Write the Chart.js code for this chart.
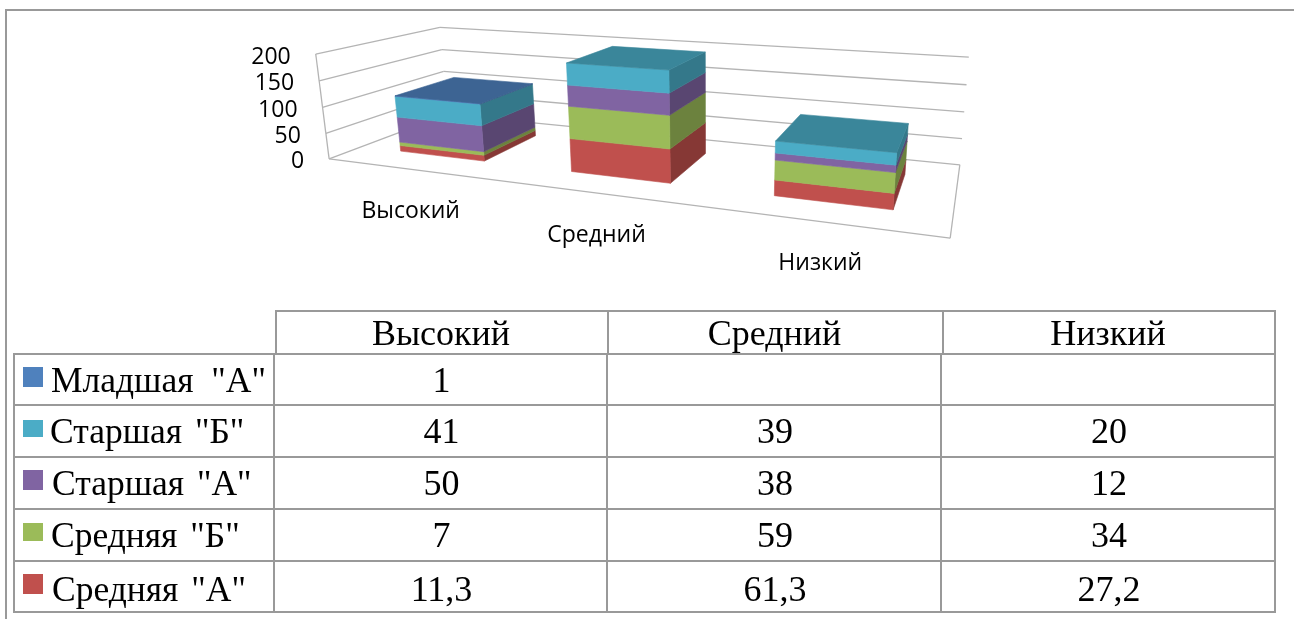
<!DOCTYPE html>
<html lang="ru"><head><meta charset="utf-8">
<script src="https://cdn.jsdelivr.net/npm/chart.js@4/dist/chart.umd.min.js"></script>
<style>
html,body{margin:0;padding:0;background:#fff;width:1294px;height:619px;overflow:hidden}
canvas{position:absolute;left:0;top:0}
.c{position:absolute;font:36px/40px "Liberation Serif",serif;color:#000;white-space:pre;text-align:center}
.l{position:absolute;background:#999}
.s{position:absolute}
</style></head><body>
<canvas id="c" width="1294" height="619"></canvas>
<script>
const categories = ['Высокий','Средний','Низкий'];
const tickLabels = [0,50,100,150,200];
const srednyayaA = [11.3,61.3,27.2];
const srednyayaB = [7,59,34];
const starshayaA = [50,38,12];
const starshayaB = [41,39,20];
const mladshayaA = [1,null,null];
const names = ['Средняя "А"','Средняя "Б"','Старшая "А"','Старшая "Б"','Младшая  "А"'];
const colors = ['#C0504D','#9BBB59','#8064A2','#4BACC6','#4F81BD'];
const seriesValues = [srednyayaA,srednyayaB,starshayaA,starshayaB,mladshayaA];

// camera: fits a projective map from (u,v,d) box coordinates to the screen
const anchors = [
 [0,0,0,329,160],[1,0,0,950,238],[1,0,1,960,165],[0,0,1,448,113],
 [0,1,0,316,53],[0,1,1,440,28],[1,1,1,969,57],[1,.5,1,964,112],[0,.5,1,443,72]];
function solveCamera(){
  const A=[],b=[];
  for(const [u,v,d,x0,y0] of anchors){const x=x0/1000,y=y0/1000;
    A.push([u,v,d,1,0,0,0,0,-x*u,-x*v,-x*d]);b.push(x);
    A.push([0,0,0,0,u,v,d,1,-y*u,-y*v,-y*d]);b.push(y);}
  const n=11,M=[];
  for(let i=0;i<n;i++){M[i]=[];for(let j=0;j<n;j++){let s=0;for(let k=0;k<A.length;k++)s+=A[k][i]*A[k][j];M[i][j]=s+(i===j?1e-10:0);}
    let s=0;for(let k=0;k<A.length;k++)s+=A[k][i]*b[k];M[i][n]=s;}
  for(let i=0;i<n;i++){let p=i;for(let r=i+1;r<n;r++)if(Math.abs(M[r][i])>Math.abs(M[p][i]))p=r;[M[i],M[p]]=[M[p],M[i]];
    for(let r=0;r<n;r++){if(r===i)continue;const f=M[r][i]/M[i][i];for(let c=i;c<=n;c++)M[r][c]-=f*M[i][c];}}
  return M.map((r,i)=>r[n]/r[i]);
}
const cam=solveCamera();
function P(u,v,d){const w=cam[8]*u+cam[9]*v+cam[10]*d+1;
  return [1000*(cam[0]*u+cam[1]*v+cam[2]*d+cam[3])/w,1000*(cam[4]*u+cam[5]*v+cam[6]*d+cam[7])/w];}

const depthFront=.24, depthBack=.75, barShift=.002;
function shade(hex,f){const n=parseInt(hex.slice(1),16);return `rgb(${(n>>16)*f|0},${((n>>8)&255)*f|0},${(n&255)*f|0})`;}
function poly(ctx,pts,fill){ctx.beginPath();pts.forEach((p,i)=>i?ctx.lineTo(p[0],p[1]):ctx.moveTo(p[0],p[1]));ctx.closePath();
  ctx.fillStyle=fill;ctx.strokeStyle=fill;ctx.lineWidth=.6;ctx.fill();ctx.stroke();}
function line(ctx,a,b){ctx.beginPath();ctx.moveTo(a[0],a[1]);ctx.lineTo(b[0],b[1]);ctx.stroke();}

const scene3d={id:'scene3d',
 beforeDatasetsDraw(chart){
  const ctx=chart.ctx,xs=chart.scales.x,ys=chart.scales.y;
  const V=val=>(ys.bottom-ys.getPixelForValue(val))/(ys.bottom-ys.top);
  const Vp=px=>(ys.bottom-px)/(ys.bottom-ys.top);
  const U=px=>(px-xs.left)/(xs.right-xs.left);
  ctx.save();
  ctx.strokeStyle='#b4b4b4';ctx.lineWidth=1.3;
  ys.ticks.forEach(t=>{const v=V(t.value);
    line(ctx,P(0,v,0),P(0,v,1));line(ctx,P(0,v,1),P(1,v,1));});
  line(ctx,P(0,0,0),P(0,1,0));
  line(ctx,P(0,0,0),P(1,0,0));line(ctx,P(1,0,0),P(1,0,1));
  categories.forEach((_,i)=>{
    let top=null;
    chart.data.datasets.forEach((ds,k)=>{
      if(ds.data[i]==null)return;
      const el=chart.getDatasetMeta(k).data[i];
      const u0=U(el.x-el.width/2)+barShift,u1=U(el.x+el.width/2)+barShift,v0=Vp(el.base),v1=Vp(el.y);
      poly(ctx,[P(u1,v0,depthFront),P(u1,v0,depthBack),P(u1,v1,depthBack),P(u1,v1,depthFront)],shade(ds.backgroundColor,.7));
      poly(ctx,[P(u0,v0,depthFront),P(u1,v0,depthFront),P(u1,v1,depthFront),P(u0,v1,depthFront)],ds.backgroundColor);
      top={u0,u1,v1,c:ds.backgroundColor};
    });
    poly(ctx,[P(top.u0,top.v1,depthFront),P(top.u1,top.v1,depthFront),P(top.u1,top.v1,depthBack),P(top.u0,top.v1,depthBack)],shade(top.c,.78));
  });
  ctx.fillStyle='#000';ctx.textBaseline='middle';
  ctx.font='23px "Open Sans"';ctx.textAlign='right';
  ys.ticks.forEach(t=>{const p=P(0,V(t.value),0);ctx.fillText(String(t.value),p[0]-25,p[1]+3);});
  ctx.textAlign='center';
  categories.forEach((c,i)=>{const p=P(U(xs.getPixelForValue(i)),0,0);ctx.fillText(c,p[0],p[1]+42);});
  ctx.restore();
  return false;
 }};

new Chart(document.getElementById('c'),{
 type:'bar',
 data:{labels:categories,datasets:seriesValues.map((data,i)=>({label:names[i],data,backgroundColor:colors[i]}))},
 options:{responsive:false,animation:false,maintainAspectRatio:false,
  layout:{padding:0},
  datasets:{bar:{barPercentage:.51,categoryPercentage:1}},
  plugins:{legend:{display:false},tooltip:{enabled:false},title:{display:false}},
  scales:{x:{stacked:true,display:false},
          y:{stacked:true,display:false,min:0,max:200,ticks:{stepSize:50}}}},
 plugins:[scene3d]});

function el(cls,css,txt){const d=document.createElement('div');d.className=cls;Object.assign(d.style,css);if(txt!=null)d.textContent=txt;document.body.appendChild(d);return d;}
const H=(x,y,w)=>el('l',{left:x+'px',top:y+'px',width:w+'px',height:'2px'});
const Vl=(x,y,h)=>el('l',{left:x+'px',top:y+'px',width:'2px',height:h+'px'});
Vl(5,10,609);H(5,9,1289);
const rowY=[353,404,456,508,560,611], colX=[273,606,940,1274], headX=[275,607,942,1274];
H(275,310,1001);
headX.forEach(x=>Vl(x,310,43));
rowY.forEach(y=>H(13,y,1263));
[13,...colX].forEach(x=>Vl(x,353,260));
const base=[345,392,443,495,547,601];
const toLabel=v=>v==null?'':String(v).replace('.',',');
categories.forEach((c,i)=>el('c',{left:headX[i]+'px',width:(headX[i+1]-headX[i])+'px',top:(base[0]-32)+'px'},c));
const swY=[[367,20],[420,17],[470,20],[523,18],[574,20]], lx=[51,50,52,51,52];
for(let r=0;r<5;r++){const k=4-r;
  el('s',{left:'23px',top:swY[r][0]+'px',width:'20px',height:swY[r][1]+'px',background:colors[k]});
  el('c',{left:lx[r]+'px',top:(base[r+1]-32)+'px',textAlign:'left',fontSize:'35.5px',wordSpacing:names[k].includes('  ')?'0':'4px'},names[k]);
  seriesValues[k].forEach((v,i)=>el('c',{left:(colX[i]+2)+'px',width:(colX[i+1]-colX[i])+'px',top:(base[r+1]-32)+'px'},toLabel(v)));
}
</script></body></html>
